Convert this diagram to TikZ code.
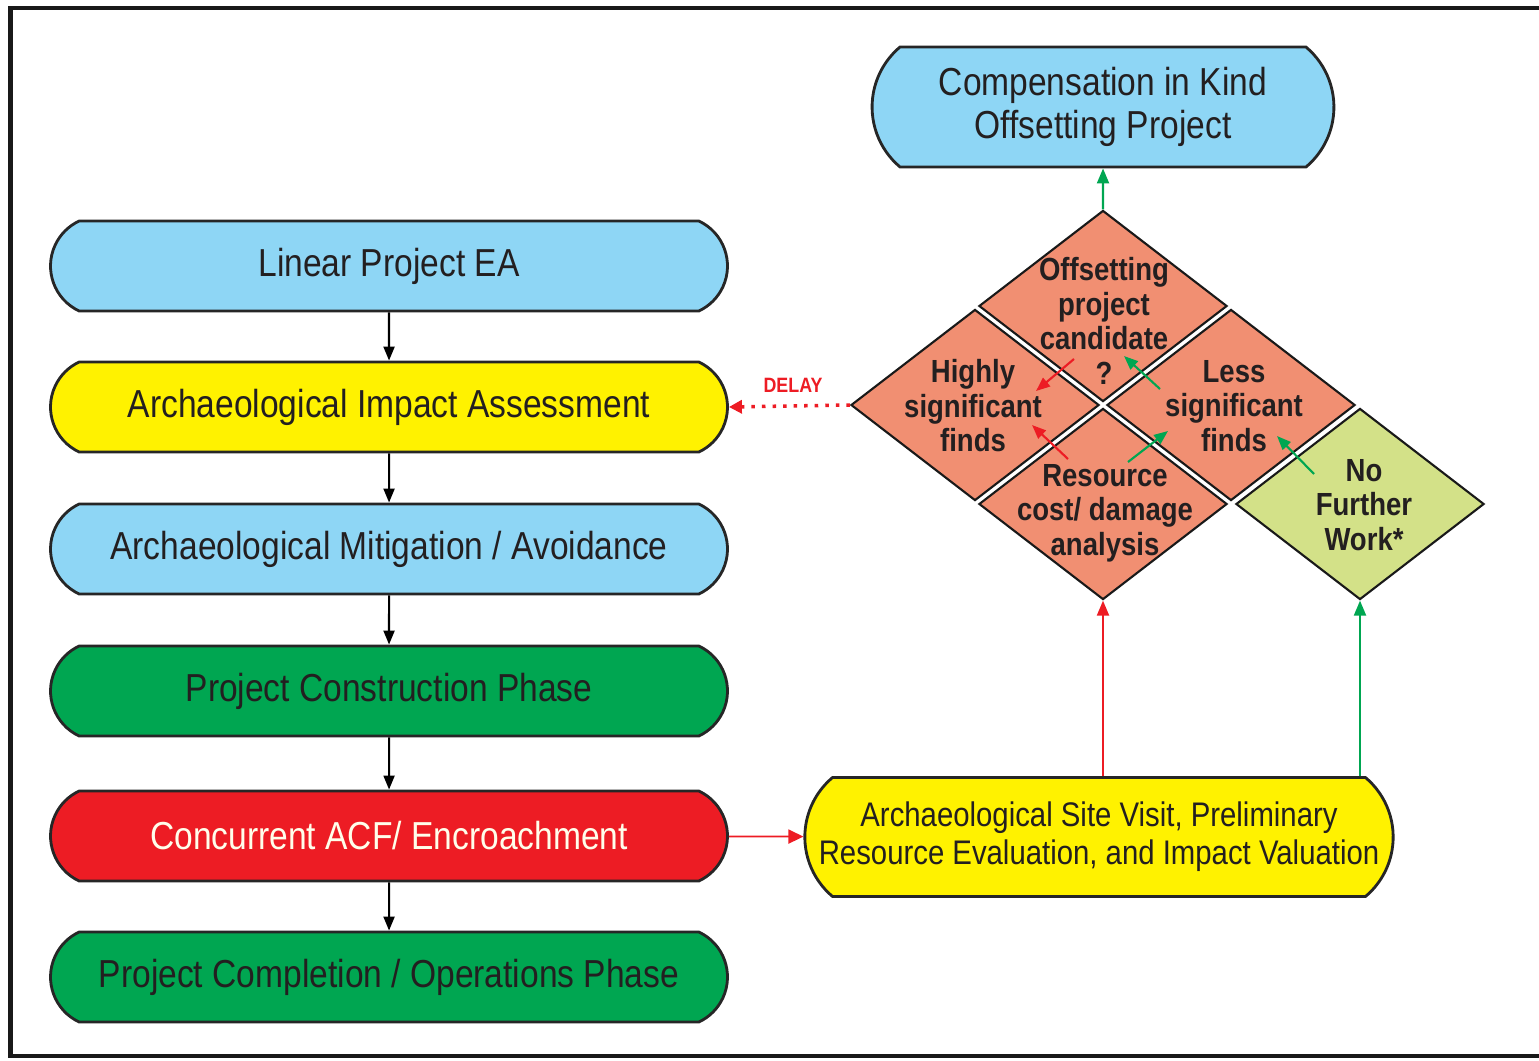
\documentclass[tikz,border=0pt]{standalone}
\usepackage{fontspec}
\setmainfont{Liberation Sans}[FakeStretch=0.86]
\usetikzlibrary{shapes.geometric,shapes.misc,arrows.meta}

\definecolor{skyblue}{RGB}{142,214,245}
\definecolor{flowyellow}{RGB}{255,242,0}
\definecolor{flowgreen}{RGB}{0,166,81}
\definecolor{flowred}{RGB}{237,28,36}
\definecolor{salmon}{RGB}{241,143,114}
\definecolor{palelime}{RGB}{211,225,136}
\definecolor{inkdark}{RGB}{35,31,32}

\begin{document}
\begin{tikzpicture}[x=0.01cm,y=-0.01cm,
    phase/.style={rounded rectangle, rounded rectangle arc length=130, draw=black!85, line width=0.8pt,
        minimum width=7.0cm, minimum height=0.9cm, text=inkdark, font=\fontsize{11.1}{13}\selectfont},
    finds/.style={diamond, draw=black!90, line width=0.6pt, fill=salmon,
        minimum width=2.48cm, minimum height=1.91cm, inner sep=0pt},
    dtext/.style={align=center, text=inkdark, font=\bfseries\fontsize{9.1}{9.8}\selectfont},
    flow/.style={-{Triangle[length=0.14cm,width=0.11cm]}, line width=0.6pt},
    upflow/.style={-{Triangle[length=0.15cm,width=0.12cm]}, line width=0.6pt}]
    \clip (0,0) rectangle (1539,1060);
    \draw[line width=1.4pt, black!90] (10.5,8) rectangle (1560,1056);

    % left column
    \node[phase, fill=skyblue] (lpea) at (389,266) {Linear Project EA};
    \node[phase, fill=flowyellow] (aia) at (389,407) {Archaeological Impact Assessment};
    \node[phase, fill=skyblue] (mit) at (389,549) {Archaeological Mitigation / Avoidance};
    \node[phase, fill=flowgreen] (build) at (389,691) {Project Construction Phase};
    \node[phase, fill=flowred, text=white!92!yellow] (acf) at (389,836) {Concurrent ACF/ Encroachment};
    \node[phase, fill=flowgreen] (done) at (389,977) {Project Completion / Operations Phase};

    \draw[flow] (lpea) -- (aia);
    \draw[flow] (aia) -- (mit);
    \draw[flow] (mit) -- (build);
    \draw[flow] (build) -- (acf);
    \draw[flow] (acf) -- (done);

    % right side
    \node[rounded rectangle, rounded rectangle arc length=100, draw=black!85, line width=0.8pt, fill=skyblue,
        minimum width=4.85cm, minimum height=1.2cm, align=center, text=inkdark,
        font=\fontsize{11.1}{12.2}\selectfont] (comp) at (1103,107) {Compensation in Kind\\Offsetting Project};
    \node[rounded rectangle, rounded rectangle arc length=100, draw=black!85, line width=0.8pt, fill=flowyellow,
        inner xsep=0pt, minimum width=5.88cm, minimum height=1.19cm, align=center, text=inkdark,
        font=\fontsize{9.7}{10.8}\selectfont] (visit) at (1099,837)
        {Archaeological Site Visit, Preliminary\\Resource Evaluation, and Impact Valuation};

    \node[finds] (off) at (1103,306) {};
    \node[finds] (hsf) at (975,405) {};
    \node[finds] (lsf) at (1231,405) {};
    \node[finds] (rcd) at (1103,504) {};
    \node[finds, fill=palelime] (nfw) at (1360,504) {};

    \node[dtext] (offtxt) at (1104,321) {Offsetting\\project\\candidate\\?};
    \node[dtext] (hsftxt) at (973,406) {Highly\\significant\\finds};
    \node[dtext] (lsftxt) at (1234,406) {Less\\significant\\finds};
    \node[dtext] (rcdtxt) at (1105,513) {Resource\\cost/ damage\\analysis};
    \node[dtext] (nfwtxt) at (1364,505) {No\\Further\\Work*};

    \draw[upflow, flowgreen] (off) -- (comp);
    \draw[upflow, flowred] (rcd.south |- visit.north) -- (rcd.south);
    \draw[upflow, flowgreen] (nfw.south |- visit.north) -- (nfw.south);
    \draw[-{Triangle[length=0.15cm,width=0.14cm]}, line width=0.5pt, flowred] (acf) -- (visit);

    \draw[-{Triangle[length=0.13cm,width=0.13cm]}, line width=1pt, flowred, dotted] (hsf.west) -- (aia.east);
    \node[text=flowred, font=\bfseries\fontsize{5.9}{7}\selectfont] (delay) at (793,385) {DELAY};

    % arrows across the diamonds
    \coordinate (r1a) at (1074,359); \coordinate (r1b) at (1036,391);
    \coordinate (g1a) at (1160,389); \coordinate (g1b) at (1124,356);
    \coordinate (r2a) at (1068,459); \coordinate (r2b) at (1032,425);
    \coordinate (g2a) at (1128,462); \coordinate (g2b) at (1168,431);
    \coordinate (g3a) at (1314,474); \coordinate (g3b) at (1277,436);
    \draw[flow, flowred] (r1a) -- (r1b);
    \draw[flow, flowgreen] (g1a) -- (g1b);
    \draw[flow, flowred] (r2a) -- (r2b);
    \draw[flow, flowgreen] (g2a) -- (g2b);
    \draw[flow, flowgreen] (g3a) -- (g3b);
\end{tikzpicture}
\end{document}
